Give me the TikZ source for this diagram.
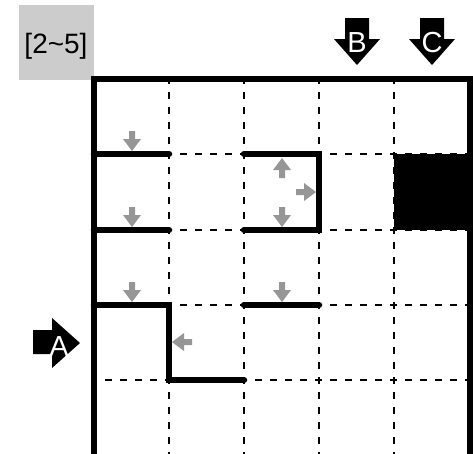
\documentclass[tikz,border=0pt]{standalone}
\usepackage{fontspec}
\setmainfont{Liberation Sans}
\definecolor{arrgray}{RGB}{150,150,150}
\definecolor{boxgray}{RGB}{204,204,204}
\tikzset{
  wall/.style={line width=6.5pt, line cap=round},
  border/.style={line width=6pt, line cap=rect},
  grid line/.style={line width=2.2pt, dash pattern=on 7pt off 8pt},
  garrD/.pic={\fill[arrgray] (0,0) -- (-9,-12) -- (-3,-12) -- (-3,-20) -- (3,-20) -- (3,-12) -- (9,-12) -- cycle;},
  garrU/.pic={\fill[arrgray] (0,0) -- (-9,12) -- (-3,12) -- (-3,20) -- (3,20) -- (3,12) -- (9,12) -- cycle;},
  garrR/.pic={\fill[arrgray] (0,0) -- (-12,-9) -- (-12,-3) -- (-20,-3) -- (-20,3) -- (-12,3) -- (-12,9) -- cycle;},
  garrL/.pic={\fill[arrgray] (0,0) -- (12,-9) -- (12,-3) -- (20,-3) -- (20,3) -- (12,3) -- (12,9) -- cycle;},
  biglabel/.style={text=white, font=\fontsize{29}{29}\selectfont, inner sep=0pt},
}
\begin{document}
\begin{tikzpicture}[x=1pt,y=-1pt]
\useasboundingbox (0,0) rectangle (473,453);
\clip (0,0) rectangle (473,453);
% label box
\fill[boxgray] (19,5) rectangle (94,80);
\node[font=\fontsize{28}{28}\selectfont, inner sep=0pt] (lbl) at (56,46) {[2\char"7E 5]};
% dashed grid
\foreach \x in {169,244,319,394} \draw[grid line, dash phase=2pt] (\x,79) -- (\x,470);
\foreach \y in {154,230,305,380} \draw[grid line, dash phase=4pt] (94,\y) -- (470,\y);
% black block
\fill (394,154) rectangle (470,230);
% walls
\draw[wall] (94,154) -- (169,154);
\draw[wall] (244,154) -- (319,154) -- (319,230) -- (244,230);
\draw[wall] (94,230) -- (169,230);
\draw[wall] (94,305) -- (169,305) -- (169,380) -- (244,380);
\draw[wall] (244,305) -- (319,305);
% border
\draw[border] (94,470) -- (94,79) -- (470,79) -- (470,470);
% gray arrows
\pic at (132,151) {garrD};
\pic at (132,227) {garrD};
\pic at (282,158) {garrU};
\pic at (316,192) {garrR};
\pic at (282,227) {garrD};
\pic at (132,302) {garrD};
\pic at (282,302) {garrD};
\pic at (172,342) {garrL};
% B and C arrows
\foreach \cx/\nm in {357/B,432/C} {
  \fill (\cx-12,18) -- (\cx+12,18) -- (\cx+12,39) -- (\cx+23,39) -- (\cx,65) -- (\cx-23,39) -- (\cx-12,39) -- cycle;
  \node[biglabel] (lab\nm) at (\cx,43) {\nm};
}
% A arrow
\fill (33,330) -- (52,330) -- (52,318) -- (80,343) -- (52,368) -- (52,354) -- (33,354) -- cycle;
\node[biglabel] (labA) at (59,347) {A};
\end{tikzpicture}
\end{document}
